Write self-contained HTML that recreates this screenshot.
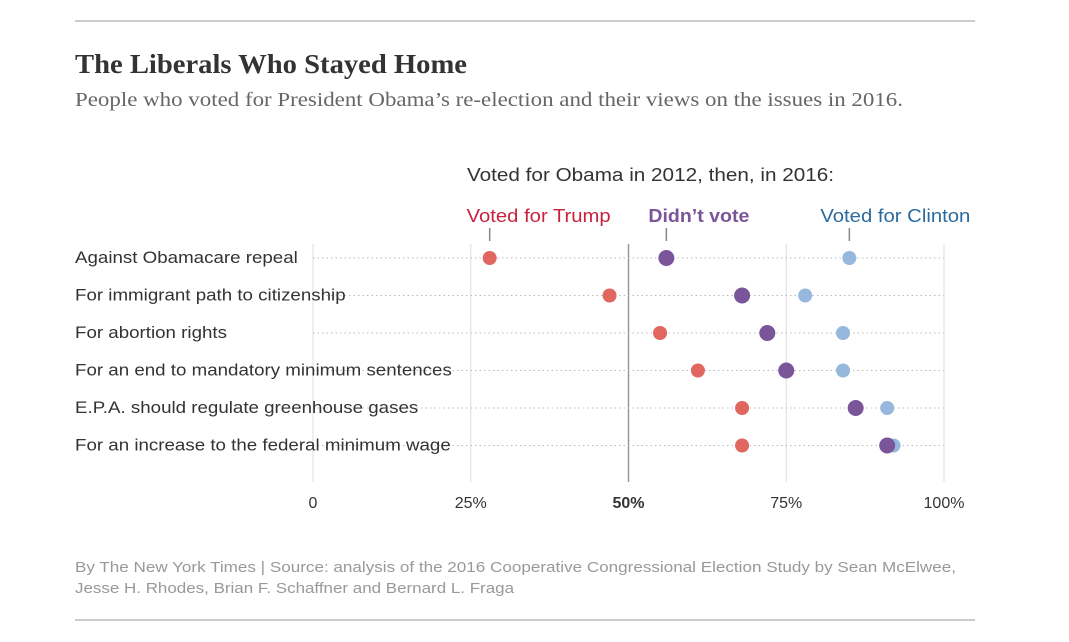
<!DOCTYPE html>
<html><head><meta charset="utf-8"><style>
body{margin:0;background:#fff;width:1069px;height:642px;overflow:hidden;font-family:"Liberation Sans",sans-serif}
svg{position:absolute;left:0;top:0}
</style></head><body>
<svg width="1069" height="642">
<line x1="75" y1="21" x2="975" y2="21" stroke="#ccc" stroke-width="2"/>
<text x="75" y="73" font-family="Liberation Serif,serif" font-weight="bold" font-size="27" fill="#333" textLength="392" lengthAdjust="spacingAndGlyphs">The Liberals Who Stayed Home</text>
<text x="75" y="106" font-family="Liberation Serif,serif" font-size="20" fill="#666" textLength="828" lengthAdjust="spacingAndGlyphs">People who voted for President Obama’s re-election and their views on the issues in 2016.</text>
<text x="467" y="181" font-size="18" fill="#333" textLength="367" lengthAdjust="spacingAndGlyphs">Voted for Obama in 2012, then, in 2016:</text>
<g id="grid"></g>
<g id="rows"></g>
<g id="legend"></g>
<g id="xticks"></g>
<text x="75" y="572" font-size="15" fill="#999" textLength="881" lengthAdjust="spacingAndGlyphs">By The New York Times | Source: analysis of the 2016 Cooperative Congressional Election Study by Sean McElwee,</text>
<text x="75" y="593" font-size="15" fill="#999" textLength="439" lengthAdjust="spacingAndGlyphs">Jesse H. Rhodes, Brian F. Schaffner and Bernard L. Fraga</text>
<line x1="75" y1="620" x2="975" y2="620" stroke="#ccc" stroke-width="2"/>
</svg>
<script>
const categories=["Against Obamacare repeal","For immigrant path to citizenship","For abortion rights","For an end to mandatory minimum sentences","E.P.A. should regulate greenhouse gases","For an increase to the federal minimum wage"];
const trump=[28,47,55,61,68,68];
const didntVote=[56,68,72,75,86,91];
const clinton=[85,78,84,84,91,92];
const ticks=[0,25,50,75,100];
const tickLabels=["0","25%","50%","75%","100%"];
const NS="http://www.w3.org/2000/svg";
const x=v=>313+v*6.31;
const y=i=>258+i*37.5;
function mk(tag,attrs,parent,text){const e=document.createElementNS(NS,tag);for(const k in attrs)e.setAttribute(k,attrs[k]);if(text!==undefined)e.textContent=text;document.getElementById(parent).appendChild(e);return e;}
function stretch(el,f){const w=el.getComputedTextLength();el.setAttribute('textLength',w*f);el.setAttribute('lengthAdjust','spacingAndGlyphs');}
ticks.forEach((t,i)=>{
  const l=mk('line',{x1:x(t),x2:x(t),y1:244,y2:482,stroke:t===50?'#999':'#ddd','stroke-width':t===50?1.5:1},'grid');
  
  
  const tx=mk('text',{x:x(t),y:508,'text-anchor':'middle','font-size':16,fill:'#333','font-weight':t===50?'bold':'normal'},'xticks',tickLabels[i]);
  
  
});
categories.forEach((c,i)=>{
  const yy=y(i);
  const dl=mk('line',{x1:313,x2:944,y1:yy,y2:yy,stroke:'#bbb','stroke-dasharray':'1.5 3'},'rows');
  
  
  const lb=mk('text',{x:75,y:yy+5,'font-size':16.5,fill:'#333'},'rows',c);
  
  
  stretch(lb,1.135);
  [[trump,'#e0675f',7],[clinton,'#96b8dc',7],[didntVote,'#7b559a',8]].forEach(([arr,col,r])=>{
    const d=mk('circle',{cx:x(arr[i]),cy:yy,r:r,fill:col},'rows');
    
    
  });
});
[[trump,'Voted for Trump','#c8223e','normal',23,144],[didntVote,"Didn’t vote",'#7b559a','bold',18,101],[clinton,'Voted for Clinton','#2a6a9e','normal',29,150]].forEach(([arr,t,col,w,off,len])=>{
  const cx=x(arr[0]);
  const tk=mk('line',{x1:cx,x2:cx,y1:228,y2:241,stroke:'#888','stroke-width':1.5},'legend');
  
  
  const tt=mk('text',{x:cx-off,y:222,'font-size':18,fill:col,'font-weight':w,textLength:len,lengthAdjust:'spacingAndGlyphs'},'legend',t);
  
  
});
</script>
</body></html>
